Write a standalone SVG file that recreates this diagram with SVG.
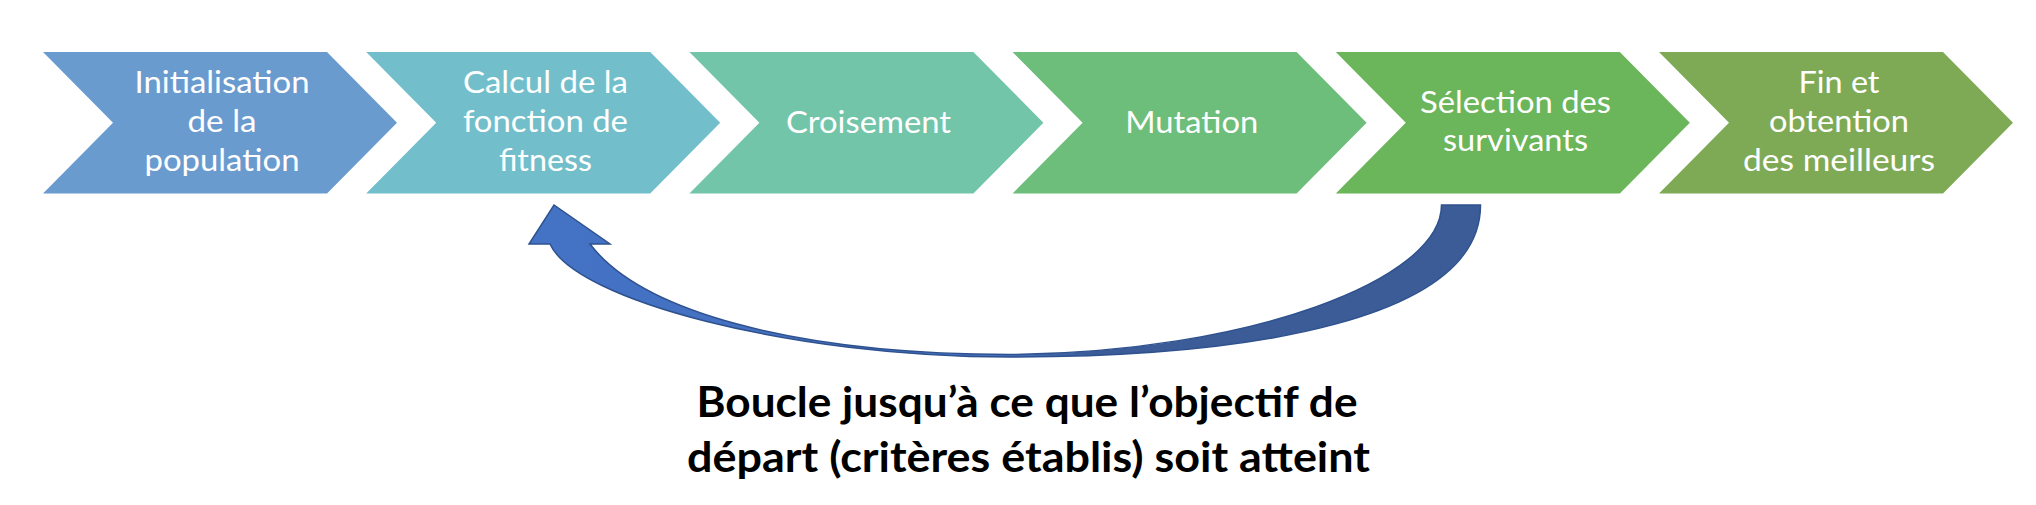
<svg xmlns="http://www.w3.org/2000/svg" width="2036" height="505" viewBox="0 0 2036 505">
<style>
.lbl{font-family:Lato,"Open Sans","Liberation Sans",sans-serif;font-size:31px;fill:#ffffff;text-anchor:middle}
.cap{font-family:Lato,"Open Sans","Liberation Sans",sans-serif;font-size:42px;font-weight:bold;fill:#000000;text-anchor:middle}
</style>
<defs>
<path id="chev" d="M0,52 L284,52 L354,122.8 L284,193.5 L0,193.5 L70,122.8 Z"/>
<linearGradient id="arrowGrad" gradientUnits="userSpaceOnUse" x1="550" y1="0" x2="1480" y2="0">
<stop offset="0" stop-color="#4472C4"/>
<stop offset="0.5" stop-color="#4470BF"/>
<stop offset="0.58" stop-color="#3B5C98"/>
<stop offset="1" stop-color="#3B5C96"/>
</linearGradient>
</defs>
<rect width="2036" height="505" fill="#ffffff"/>
<g id="node1"><use href="#chev" x="43" fill="#6A9BCF"/>
<text class="lbl" x="222" y="93" textLength="175" lengthAdjust="spacingAndGlyphs">Initialisation</text>
<text class="lbl" x="222" y="132" textLength="69" lengthAdjust="spacingAndGlyphs">de la</text>
<text class="lbl" x="222" y="171" textLength="155" lengthAdjust="spacingAndGlyphs">population</text></g>
<g id="node2"><use href="#chev" x="366.2" fill="#72BFCB"/>
<text class="lbl" x="545.4" y="93" textLength="165" lengthAdjust="spacingAndGlyphs">Calcul de la</text>
<text class="lbl" x="545.4" y="132" textLength="165" lengthAdjust="spacingAndGlyphs">fonction de</text>
<text class="lbl" x="545.4" y="171" textLength="93" lengthAdjust="spacingAndGlyphs">fitness</text></g>
<g id="node3"><use href="#chev" x="689.4" fill="#72C5A9"/>
<text class="lbl" x="868.5" y="132.5" textLength="165" lengthAdjust="spacingAndGlyphs">Croisement</text></g>
<g id="node4"><use href="#chev" x="1012.6" fill="#6DBD7B"/>
<text class="lbl" x="1191.8" y="132.5" textLength="133" lengthAdjust="spacingAndGlyphs">Mutation</text></g>
<g id="node5"><use href="#chev" x="1335.8" fill="#6BB55A"/>
<text class="lbl" x="1515.5" y="112.5" textLength="191" lengthAdjust="spacingAndGlyphs">Sélection des</text>
<text class="lbl" x="1515.5" y="151" textLength="145" lengthAdjust="spacingAndGlyphs">survivants</text></g>
<g id="node6"><use href="#chev" x="1659" fill="#7EAA56"/>
<text class="lbl" x="1839" y="93" textLength="81" lengthAdjust="spacingAndGlyphs">Fin et</text>
<text class="lbl" x="1839" y="132" textLength="140" lengthAdjust="spacingAndGlyphs">obtention</text>
<text class="lbl" x="1839" y="171" textLength="192" lengthAdjust="spacingAndGlyphs">des meilleurs</text></g>
<g id="connectors">
<path d="M1480.5,205 C1480.5,320 1250,357 1010,357 C790,357 575,300 550,244 L529,244 L554,205 L610,244 L590,244 C640,310 790,354 1010,354.5 C1250,352 1441.5,280 1441.5,205 Z" fill="url(#arrowGrad)" stroke="#2F528F" stroke-width="1.5" stroke-linejoin="miter"/>
</g>
<g id="caption">
<text class="cap" x="1027" y="417" textLength="661" lengthAdjust="spacingAndGlyphs">Boucle jusqu’à ce que l’objectif de</text>
<text class="cap" x="1028.5" y="472" textLength="683" lengthAdjust="spacingAndGlyphs">départ (critères établis) soit atteint</text>
</g>
</svg>
